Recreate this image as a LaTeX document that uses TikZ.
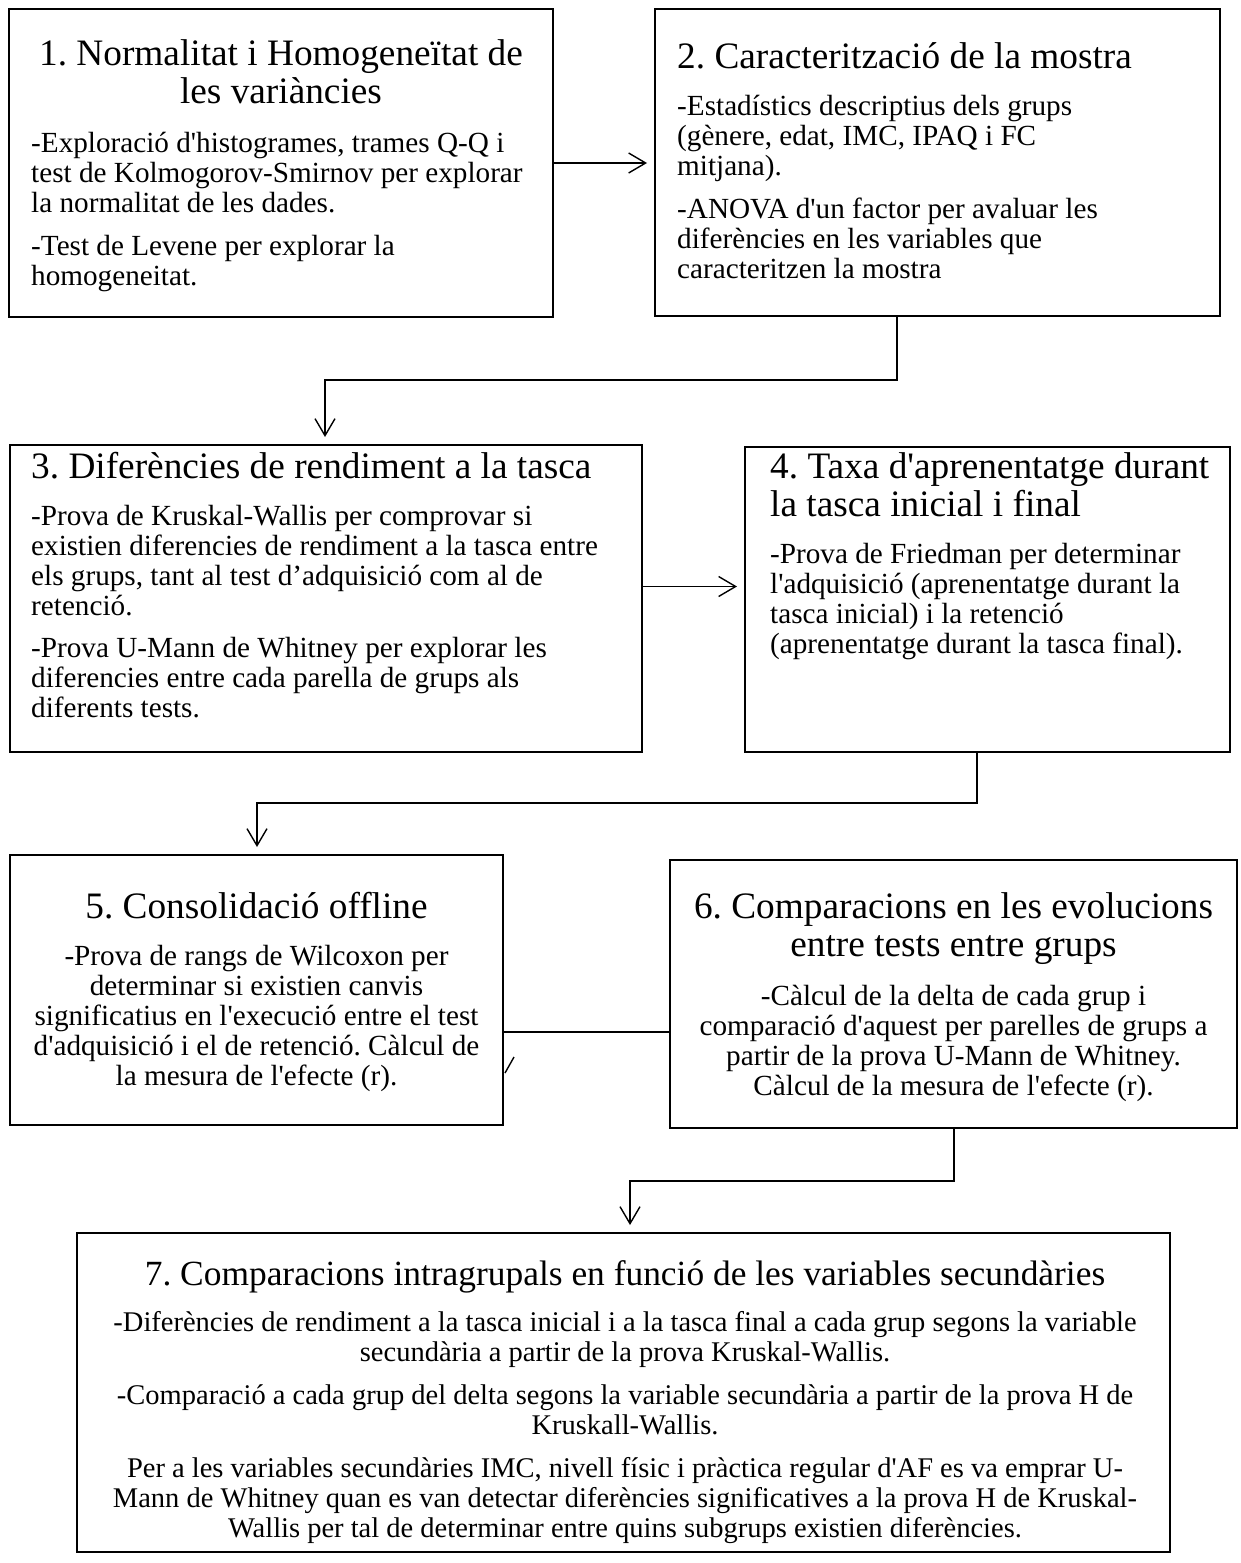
\documentclass[tikz,border=0pt]{standalone}
\usepackage{fontspec}
\newfontfamily\tnr{Liberation Serif}
\usetikzlibrary{arrows.meta,calc}
\frenchspacing
\begin{document}
\begin{tikzpicture}[x=1pt,y=-1pt,
  box/.style={draw, line width=2.4pt, inner sep=0pt, outer sep=0pt},
  ttl/.style={font={\tnr\frenchspacing\fontsize{37.3}{38}\selectfont}, inner sep=0pt},
  bdy/.style={font={\tnr\frenchspacing\fontsize{29.2}{30}\selectfont}, inner sep=0pt},
  ttlseven/.style={font={\tnr\frenchspacing\fontsize{35.4}{38}\selectfont}, inner sep=0pt},
  bdyseven/.style={font={\tnr\frenchspacing\fontsize{28.5}{30}\selectfont}, inner sep=0pt},
  conn/.style={line width=1.4pt},
  arr/.style={conn, -{Straight Barb[length=17pt,width=20pt]}, shorten >=8pt}]
\fill[white] (0,0) rectangle (1240,1563);
\useasboundingbox (0,0) rectangle (1240,1563);

% boxes
\node[box, minimum width=544pt, minimum height=308pt] (b1) at (281,163) {};
\node[box, minimum width=565pt, minimum height=307pt] (b2) at (937.5,162.5) {};
\node[box, minimum width=632pt, minimum height=307pt] (b3) at (326,598.5) {};
\node[box, minimum width=485pt, minimum height=305pt] (b4) at (987.5,599.5) {};
\node[box, minimum width=493pt, minimum height=270pt] (b5) at (256.5,990) {};
\node[box, minimum width=567pt, minimum height=268pt] (b6) at (953.5,994) {};
\node[box, minimum width=1093pt, minimum height=319pt] (b7) at (623.5,1392.5) {};

% box 1 (anchor = baseline of the last line)
\node[ttl, anchor=base, align=center] (t1) at (281,103) {1. Normalitat i Homogeneïtat de\\les variàncies};
\node[bdy, anchor=base west, align=left] (d1) at (31,285) {-Exploració d'histogrames, trames Q-Q i\\test de Kolmogorov-Smirnov per explorar\\la normalitat de les dades.\\[13pt]-Test de Levene per explorar la\\homogeneitat.};

% box 2
\node[ttl, anchor=base west, align=left] (t2) at (677,68) {2. Caracterització de la mostra};
\node[bdy, anchor=base west, align=left] (d2) at (677,278) {-Estadístics descriptius dels grups\\(gènere, edat, IMC, IPAQ i FC\\mitjana).\\[13pt]-ANOVA d'un factor per avaluar les\\diferències en les variables que\\caracteritzen la mostra};

% box 3
\node[ttl, anchor=base west, align=left] (t3) at (31,478) {3. Diferències de rendiment a la tasca};
\node[bdy, anchor=base west, align=left] (d3) at (31,717) {-Prova de Kruskal-Wallis per comprovar si\\existien diferencies de rendiment a la tasca entre\\els grups, tant al test d’adquisició com al de\\retenció.\\[12pt]-Prova U-Mann de Whitney per explorar les\\diferencies entre cada parella de grups als\\diferents tests.};

% box 4
\node[ttl, anchor=base west, align=left] (t4) at (770,516) {4. Taxa d'aprenentatge durant\\la tasca inicial i final};
\node[bdy, anchor=base west, align=left] (d4) at (770,653) {-Prova de Friedman per determinar\\l'adquisició (aprenentatge durant la\\tasca inicial) i la retenció\\(aprenentatge durant la tasca final).};

% box 5
\node[ttl, anchor=base, align=center] (t5) at (256.5,918) {5. Consolidació offline};
\node[bdy, anchor=base, align=center] (d5) at (256.5,1085) {-Prova de rangs de Wilcoxon per\\determinar si existien canvis\\significatius en l'execució entre el test\\d'adquisició i el de retenció. Càlcul de\\la mesura de l'efecte (r).};

% box 6
\node[ttl, anchor=base, align=center] (t6) at (953.5,956) {6. Comparacions en les evolucions\\entre tests entre grups};
\node[bdy, anchor=base, align=center] (d6) at (953.5,1095) {-Càlcul de la delta de cada grup i\\comparació d'aquest per parelles de grups a\\partir de la prova U-Mann de Whitney.\\Càlcul de la mesura de l'efecte (r).};

% box 7
\node[ttlseven, anchor=base, align=center] (t7) at (625,1285) {7. Comparacions intragrupals en funció de les variables secundàries};
\node[bdyseven, anchor=base, align=center] (d7) at (625,1537) {-Diferències de rendiment a la tasca inicial i a la tasca final a cada grup segons la variable\\secundària a partir de la prova Kruskal-Wallis.\\[13pt]-Comparació a cada grup del delta segons la variable secundària a partir de la prova H de\\Kruskall-Wallis.\\[13pt]Per a les variables secundàries IMC, nivell físic i pràctica regular d'AF es va emprar U-\\Mann de Whitney quan es van detectar diferències significatives a la prova H de Kruskal-\\Wallis per tal de determinar entre quins subgrups existien diferències.};

% connectors
\draw[arr] (b1.east) -- (b1.east -| b2.west);
\draw[arr] ($(b3.east)+(0,-12)$) coordinate (a34) -- (a34 -| b4.west);

\coordinate (j2a) at (897,380);
\coordinate (j2b) at (325,380);
\draw[arr] (j2a |- b2.south) -- (j2a) -- (j2b) -- (j2b |- b3.north);

\coordinate (j4a) at (977,803);
\coordinate (j4b) at (257,803);
\draw[arr] (j4a |- b4.south) -- (j4a) -- (j4b) -- (j4b |- b5.north);

\draw[conn] ($(b6.west)+(0,38)$) coordinate (a65) -- (a65 -| b5.east);
\draw[conn] ($(b5.east)+(2,83)$) coordinate (s65) -- ++(9,-16);

\coordinate (j6a) at (954,1181);
\coordinate (j6b) at (630,1181);
\draw[arr] (j6a |- b6.south) -- (j6a) -- (j6b) -- (j6b |- b7.north);
\end{tikzpicture}
\end{document}
